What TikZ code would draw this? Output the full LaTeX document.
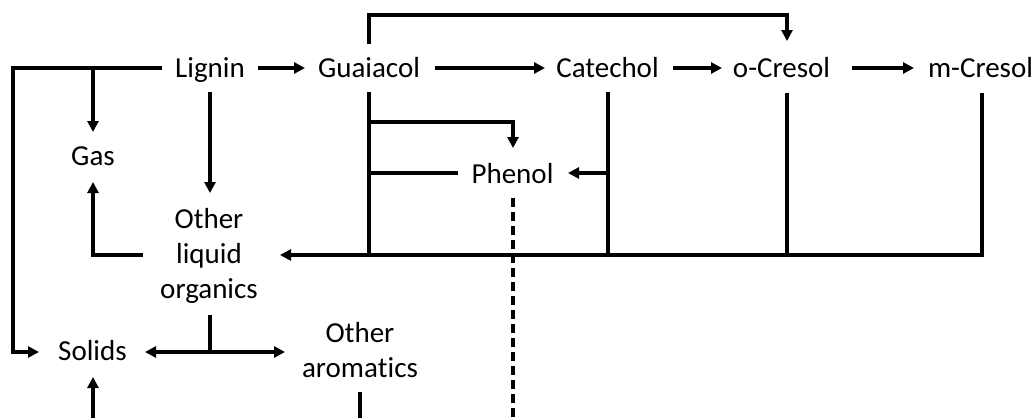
\documentclass[tikz,border=0pt]{standalone}
\usepackage{fontspec}
\setmainfont[Ligatures={NoCommon,NoDiscretionary}]{Carlito}
\usetikzlibrary{arrows.meta}
\begin{document}
\begin{tikzpicture}[x=1pt,y=-1pt,line width=3.6pt,
  lbl/.style={font=\fontsize{29}{35}\selectfont,inner sep=0pt,align=center,anchor=base},
  arr/.style={-{Triangle[length=11pt,width=11pt]}},
  dsh/.style={dash pattern=on 9pt off 5pt}]
\useasboundingbox (0,0) rectangle (1036,418);
% nodes
\node[lbl] (lig) at (210,77) {Lignin};
\node[lbl] (gua) at (369,77) {Guaiacol};
\node[lbl] (cat) at (607.5,77) {Catechol};
\node[lbl] (ocr) at (781.5,77) {o-Cresol};
\node[lbl] (mcr) at (980.5,77) {m-Cresol};
\node[lbl] (phe) at (512.5,183) {Phenol};
\node[lbl] (gas) at (93,165) {Gas};
\node[lbl] (liq) at (209,298) {Other\\liquid\\organics};
\node[lbl] (sol) at (92.5,360) {Solids};
\node[lbl] (aro) at (360,377) {Other\\aroma\kern0pt tics};
% coordinates
\coordinate (ligE) at (258,68);  \coordinate (guaW) at (305,68);
\coordinate (guaE) at (435,68);  \coordinate (catW) at (545,68);
\coordinate (catE) at (673,68);  \coordinate (ocrW) at (722,68);
\coordinate (ocrE) at (852,68);  \coordinate (mcrW) at (914,68);
\coordinate (guaN) at (369,44);  \coordinate (ocrN) at (787,41);
\coordinate (ligW) at (162,68);  \coordinate (solW) at (39,352);
\coordinate (gasN) at (93,132);  \coordinate (gasS) at (93,182);
\coordinate (ligS) at (210,92);  \coordinate (liqN) at (210,193);
\coordinate (liqW) at (143,255); \coordinate (liqE) at (280,255);
\coordinate (guaS) at (369,92);  \coordinate (catS) at (608,92);
\coordinate (ocrS) at (787,93);  \coordinate (mcrS) at (982,93);
\coordinate (pheN) at (513,148); \coordinate (pheW) at (458,173);
\coordinate (pheE) at (568,173); \coordinate (pheS) at (513,198);
\coordinate (liqS) at (210,315); \coordinate (solE) at (145,352);
\coordinate (aroW) at (285,352); \coordinate (solS) at (93,377);
\coordinate (aroS) at (360,392);
\coordinate (b1) at (93,418); \coordinate (b2) at (360,418); \coordinate (b3) at (513,418);
% connectors
\draw[arr] (ligE) -- (guaW);
\draw[arr] (guaE) -- (catW);
\draw[arr] (catE) -- (ocrW);
\draw[arr] (ocrE) -- (mcrW);
\draw[arr] (guaN) -- (369,15) -- (787,15) -- (ocrN);
\draw[arr] (ligW) -- (13,68) -- (13,352) -- (solW);
\draw[arr] (93,68) -- (gasN);
\draw[arr] (ligS) -- (liqN);
\draw[arr] (liqW) -- (93,255) -- (gasS);
\draw[arr] (mcrS) -- (982,255) -- (liqE);
\draw (guaS) -- (369,255);
\draw (catS) -- (608,255);
\draw (ocrS) -- (787,255);
\draw[arr] (369,122) -- (513,122) -- (pheN);
\draw (pheW) -- (369,173);
\draw[arr] (608,173) -- (pheE);
\draw[dsh] (pheS) -- (b3);
\draw (liqS) -- (210,352);
\draw[arr] (210,352) -- (solE);
\draw[arr] (210,352) -- (aroW);
\draw[arr] (b1) -- (solS);
\draw (aroS) -- (b2);
\end{tikzpicture}
\end{document}
